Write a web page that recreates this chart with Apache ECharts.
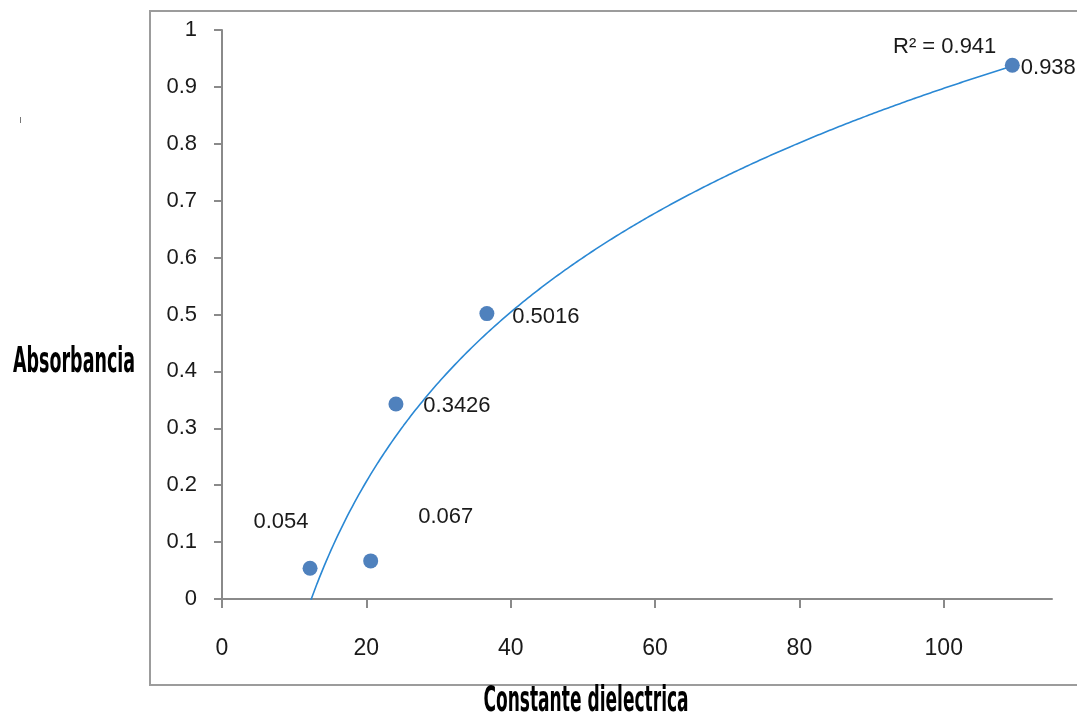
<!DOCTYPE html>
<html>
<head>
<meta charset="utf-8">
<script src="https://cdn.jsdelivr.net/npm/echarts@6/dist/echarts.min.js"></script>
<style>
  html, body { margin: 0; padding: 0; background: #ffffff; }
  #chart { width: 1077px; height: 719px; }
</style>
</head>
<body>
<div id="chart"></div>
<script>
// Dielectric constant of each solvent and the absorbance measured in it
const dielectricConstant = [12.2, 20.6, 24.1, 36.7, 109.5];
const absorbance = [0.054, 0.067, 0.3426, 0.5016, 0.938];
const pointLabels = ['0.054', '0.067', '0.3426', '0.5016', '0.938'];
const xTicks = [0, 20, 40, 60, 80, 100];
const r2Text = 'R² = 0.941';
const xTitle = 'Constante dielectrica';
const yTitle = 'Absorbancia';

// Where each value label sits relative to its point (px)
const labelOffsets = [[-29, -46], [75, -44], [61, 2], [59, 3], [36, 3]];

// Logarithmic least-squares trendline: y = a * ln(x) + b
function logFit(xs, ys) {
  const lx = xs.map(Math.log);
  const n = xs.length;
  const mx = lx.reduce((s, v) => s + v, 0) / n;
  const my = ys.reduce((s, v) => s + v, 0) / n;
  let sxy = 0, sxx = 0;
  for (let i = 0; i < n; i++) {
    sxy += (lx[i] - mx) * (ys[i] - my);
    sxx += (lx[i] - mx) * (lx[i] - mx);
  }
  const a = sxy / sxx;
  return { a: a, b: my - a * mx };
}
const fit = logFit(dielectricConstant, absorbance);
const xLo = Math.min(...dielectricConstant);
const xHi = Math.max(...dielectricConstant);
const trend = [];
for (let i = 0; i <= 300; i++) {
  const x = xLo + (xHi - xLo) * i / 300;
  trend.push([x, fit.a * Math.log(x) + fit.b]);
}

const tickFont = 'Liberation Sans, Arial, sans-serif';
const titleFont = 'bold 24px "Liberation Sans Narrow", "DejaVu Sans Condensed", sans-serif';
const axisGray = '#8a8a8a';

const chart = echarts.init(document.getElementById('chart'), null, { renderer: 'canvas' });
chart.setOption({
  backgroundColor: '#ffffff',
  animation: false,
  grid: { left: 222, right: 25, top: 30, bottom: 120, containLabel: false },
  xAxis: {
    type: 'value',
    min: 0,
    max: 115,
    interval: 20,
    splitLine: { show: false },
    axisLine: { lineStyle: { color: axisGray, width: 2 } },
    axisTick: { show: true, length: 9, lineStyle: { color: axisGray, width: 2 }, customValues: xTicks },
    axisLabel: { customValues: xTicks, margin: 38, color: '#1a1a1a', fontFamily: tickFont, fontSize: 23 }
  },
  yAxis: {
    type: 'value',
    min: 0,
    max: 1,
    interval: 0.1,
    splitLine: { show: false },
    axisLine: { show: true, lineStyle: { color: axisGray, width: 2 } },
    axisTick: { show: true, length: 8, lineStyle: { color: axisGray, width: 2 } },
    axisLabel: { margin: 25, color: '#1a1a1a', fontFamily: tickFont, fontSize: 22 }
  },
  series: [
    {
      type: 'line',
      data: trend,
      showSymbol: false,
      smooth: false,
      clip: true,
      lineStyle: { color: '#2a88d4', width: 1.6 },
      silent: true,
      z: 2
    },
    {
      type: 'scatter',
      data: dielectricConstant.map((x, i) => ({
        value: [x, absorbance[i]],
        label: {
          show: true,
          formatter: pointLabels[i],
          position: 'inside',
          offset: labelOffsets[i]
        }
      })),
      symbol: 'circle',
      symbolSize: 15,
      itemStyle: { color: '#4f81bd', opacity: 1 },
      label: { color: '#1a1a1a', fontFamily: tickFont, fontSize: 22 },
      z: 3
    }
  ],
  graphic: [
    {
      type: 'rect',
      shape: { x: 150, y: 11, width: 1000, height: 674 },
      style: { fill: 'none', stroke: '#9c9c9c', lineWidth: 2 },
      z: 0
    },
    {
      type: 'text',
      x: 13, y: 363,
      scaleX: 0.81,
      scaleY: 1.5,
      style: {
        text: yTitle,
        font: titleFont,
        fill: '#000000',
        textAlign: 'left',
        textVerticalAlign: 'middle'
      }
    },
    {
      type: 'text',
      x: 586, y: 702,
      scaleX: 0.79,
      scaleY: 1.45,
      style: {
        text: xTitle,
        font: titleFont,
        fill: '#000000',
        textAlign: 'center',
        textVerticalAlign: 'middle'
      }
    },
    {
      type: 'text',
      x: 893, y: 47,
      style: {
        text: r2Text,
        font: '22px "Liberation Sans", Arial, sans-serif',
        fill: '#1a1a1a',
        textAlign: 'left',
        textVerticalAlign: 'middle'
      }
    },
    {
      type: 'line',
      shape: { x1: 20.5, y1: 117, x2: 20.5, y2: 123 },
      style: { stroke: '#777777', lineWidth: 1 }
    }
  ]
});
</script>
</body>
</html>
